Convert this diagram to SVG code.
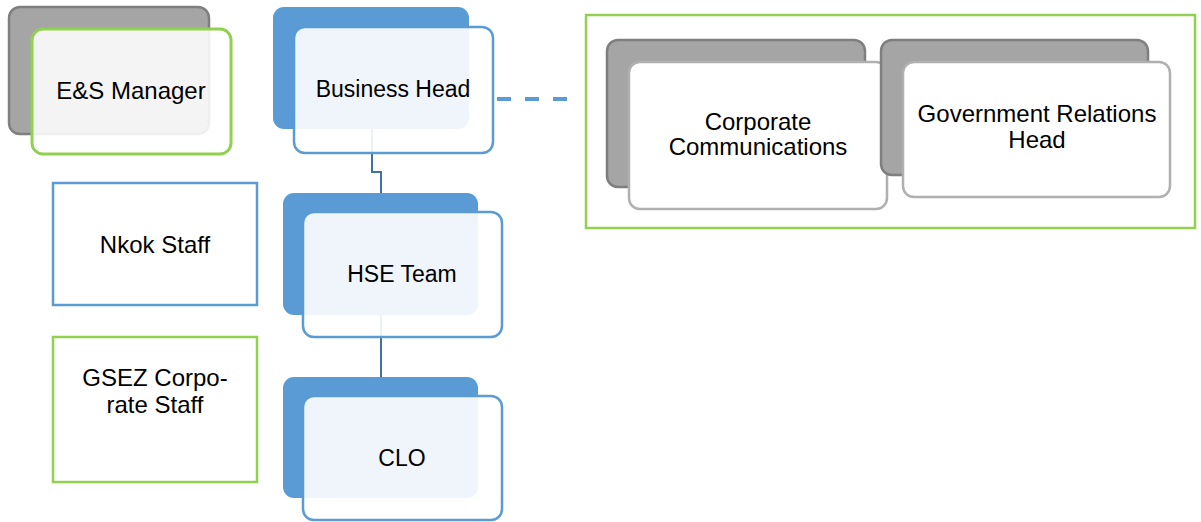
<svg xmlns="http://www.w3.org/2000/svg" width="1201" height="522" viewBox="0 0 1201 522">
  <style>
    text { font-family: "Liberation Sans", Arial, sans-serif; font-size: 23px; fill: #000; text-anchor: middle; }
    text.lg { font-size: 24px; }
    .back-blue { fill: #5b9bd5; }
    .front-blue { fill: #ffffff; fill-opacity: 0.9; stroke: #5b9bd5; stroke-width: 2.5; }
    .back-gray { fill: #a5a5a5; stroke: #7f7f7f; stroke-width: 2.5; }
    .front-gray { fill: #ffffff; stroke: #b0b0b0; stroke-width: 2.5; }
    .front-green { fill: #ffffff; fill-opacity: 0.88; stroke: #92d050; stroke-width: 3; }
    .plain-blue { fill: #ffffff; stroke: #5b9bd5; stroke-width: 2.5; }
    .plain-green { fill: #ffffff; stroke: #92d050; stroke-width: 2.5; }
    .link { fill: none; stroke: #41719c; stroke-width: 2; }
    .dash { fill: none; stroke: #5b9bd5; stroke-width: 4; stroke-dasharray: 14 14; }
  </style>

  <!-- connectors -->
  <g id="connectors">
    <path class="link" d="M372,129 V172 H381 V193"/>
    <path class="link" d="M381,315 V377"/>
    <path class="dash" d="M497,99 H568"/>
  </g>

  <!-- E&S Manager -->
  <g id="es-manager">
    <rect class="back-gray" x="9" y="7" width="200" height="127" rx="11"/>
    <rect class="front-green" x="32" y="29" width="199" height="125" rx="11"/>
    <text class="lg" x="131" y="99">E&amp;S Manager</text>
  </g>

  <!-- Business Head -->
  <g id="business-head">
    <rect class="back-blue" x="273" y="7" width="196" height="122" rx="11"/>
    <rect class="front-blue" x="294" y="27" width="199" height="126" rx="11"/>
    <text x="393" y="97">Business Head</text>
  </g>

  <!-- HSE Team -->
  <g id="hse-team">
    <rect class="back-blue" x="283" y="193" width="195" height="122" rx="11"/>
    <rect class="front-blue" x="303" y="212" width="199" height="125" rx="11"/>
    <text x="402" y="282">HSE Team</text>
  </g>

  <!-- CLO -->
  <g id="clo">
    <rect class="back-blue" x="283" y="377" width="195" height="121" rx="11"/>
    <rect class="front-blue" x="303" y="396" width="199" height="124" rx="11"/>
    <text x="402" y="466">CLO</text>
  </g>

  <!-- Nkok Staff -->
  <g id="nkok-staff">
    <rect class="plain-blue" x="53" y="183" width="204" height="122"/>
    <text class="lg" x="155" y="253">Nkok Staff</text>
  </g>

  <!-- GSEZ Corporate Staff -->
  <g id="gsez-staff">
    <rect class="plain-green" x="53" y="337" width="204" height="145"/>
    <text class="lg" x="155" y="386">GSEZ Corpo-</text>
    <text class="lg" x="155" y="413">rate Staff</text>
  </g>

  <!-- external relations group -->
  <g id="external-group">
    <rect x="586" y="15" width="609" height="213" fill="none" stroke="#92d050" stroke-width="2.5"/>
  </g>

  <!-- Corporate Communications -->
  <g id="corporate-communications">
    <rect class="back-gray" x="607" y="40" width="258" height="147" rx="11"/>
    <rect class="front-gray" x="629" y="62" width="258" height="147" rx="11"/>
    <text class="lg" x="758" y="130">Corporate</text>
    <text class="lg" x="758" y="155">Communications</text>
  </g>

  <!-- Government Relations Head -->
  <g id="government-relations">
    <rect class="back-gray" x="881" y="40" width="267" height="135" rx="11"/>
    <rect class="front-gray" x="903" y="62" width="267" height="135" rx="11"/>
    <text class="lg" x="1037" y="122">Government Relations</text>
    <text class="lg" x="1037" y="148">Head</text>
  </g>
</svg>
